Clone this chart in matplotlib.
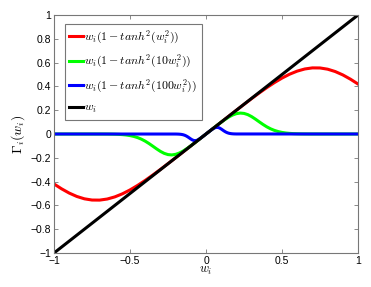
import numpy as np
import matplotlib
matplotlib.use('Agg')
import matplotlib.pyplot as plt

plt.rcParams['font.family'] = ['Liberation Sans', 'DejaVu Sans']
plt.rcParams['mathtext.fontset'] = 'cm'

# values
red_x = np.linspace(-1, 1, 41)
red_y = [-0.42, -0.4609, -0.4965, -0.5249, -0.5447, -0.555, -0.5556, -0.5465, -0.5285, -0.5026,
         -0.47, -0.432, -0.3899, -0.3448, -0.2976, -0.249, -0.1997, -0.1499, -0.1, -0.05, 0,
         0.05, 0.1, 0.1499, 0.1997, 0.249, 0.2976, 0.3448, 0.3899, 0.432, 0.47,
         0.5026, 0.5285, 0.5465, 0.5556, 0.555, 0.5447, 0.5249, 0.4965, 0.4609, 0.42]

green_x = [-1.0] + list(np.linspace(-0.7, 0.7, 57)) + [1.0]
green_y = [0, -0.0002, -0.0003, -0.0006, -0.001, -0.0018, -0.0031, -0.0052, -0.0084, -0.0133,
           -0.0204, -0.0303, -0.0435, -0.0602, -0.0802, -0.1024, -0.1251, -0.1461, -0.1628,
           -0.1731, -0.1759, -0.1711, -0.1596, -0.1427, -0.122, -0.099, -0.0748, -0.05, -0.025,
           0, 0.025, 0.05, 0.0748, 0.099, 0.122, 0.1427, 0.1596, 0.1711, 0.1759, 0.1731,
           0.1628, 0.1461, 0.1251, 0.1024, 0.0802, 0.0602, 0.0435, 0.0303, 0.0204, 0.0133,
           0.0084, 0.0052, 0.0031, 0.0018, 0.001, 0.0006, 0.0003, 0.0002, 0]

blue_x = [-1.0] + list(np.linspace(-0.2, 0.2, 41)) + [1.0]
blue_y = [0, -0.0003, -0.0006, -0.0011, -0.0021, -0.0038, -0.0065, -0.0107, -0.0166, -0.0242,
          -0.033, -0.042, -0.0497, -0.0545, -0.0556, -0.0529, -0.047, -0.039, -0.0298, -0.02,
          -0.01, 0, 0.01, 0.02, 0.0298, 0.039, 0.047, 0.0529, 0.0556, 0.0545, 0.0497, 0.042,
          0.033, 0.0242, 0.0166, 0.0107, 0.0065, 0.0038, 0.0021, 0.0011, 0.0006, 0.0003, 0]

black_x = [-1, 1]
black_y = [-1, 1]

labels = [r'$w_i(1-tanh^2(w_i^2))$', r'$w_i(1-tanh^2(10w_i^2))$',
          r'$w_i(1-tanh^2(100w_i^2))$', r'$w_i$']

fig = plt.figure(figsize=(3.71, 2.87), dpi=100)
ax = fig.add_axes([0.1456, 0.1185, 0.8194, 0.8292])
lw = 2.2
ax.plot(red_x, red_y, color='#ff0000', lw=lw, label=labels[0])
ax.plot(green_x, green_y, color='#00ff00', lw=lw, label=labels[1])
ax.plot(blue_x, blue_y, color='#0000ff', lw=lw, label=labels[2])
ax.plot(black_x, black_y, color='black', lw=lw, label=labels[3])

ax.set_xlim(-1, 1)
ax.set_ylim(-1, 1)
ax.set_xticks([-1, -0.5, 0, 0.5, 1])
ax.set_xticklabels(['\u22121', '\u22120.5', '0', '0.5', '1'])
ax.set_yticks(np.arange(-1, 1.01, 0.2))
ax.set_yticklabels(['\u22121', '\u22120.8', '\u22120.6', '\u22120.4', '\u22120.2', '0',
                    '0.2', '0.4', '0.6', '0.8', '1'])
ax.tick_params(direction='in', top=True, right=True, length=3, width=0.6,
               color='#777777', labelsize=7.5, pad=2)
for s in ax.spines.values():
    s.set_color('#777777')
    s.set_linewidth(0.8)

ax.set_xlabel(r'$w_i$', fontsize=9, labelpad=-1)
ax.set_ylabel(r'$\Gamma_i(w_i)$', fontsize=10, labelpad=3)

leg = ax.legend(loc='upper left', bbox_to_anchor=(0.035, 0.962), fontsize=8.5,
                frameon=True, fancybox=False, edgecolor='#777777', framealpha=1,
                handlelength=1.15, handletextpad=0.1, labelspacing=0.62,
                borderpad=0.4, borderaxespad=0)
leg.get_frame().set_linewidth(0.8)

fig.savefig('out.png', dpi=100)
